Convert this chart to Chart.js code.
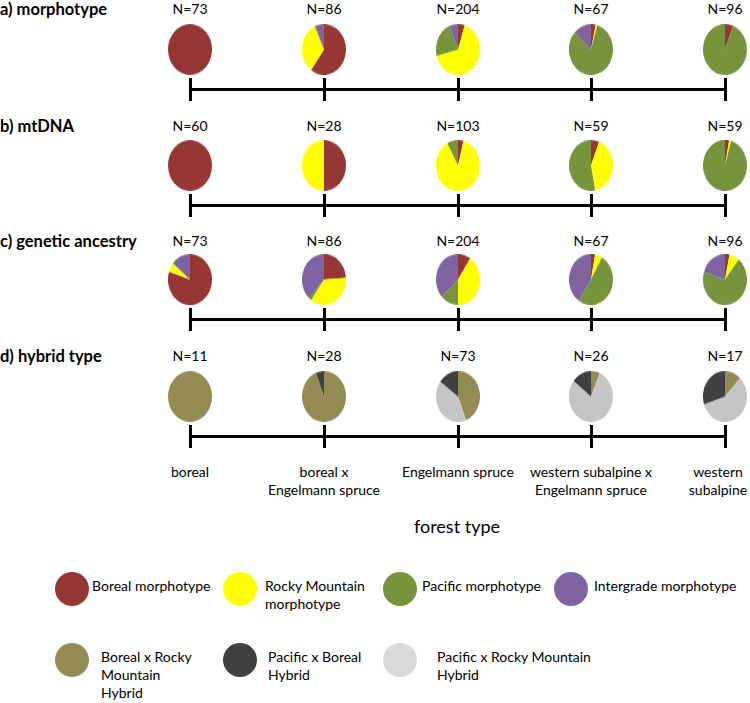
<!DOCTYPE html>
<html>
<head>
<meta charset="utf-8">
<script src="https://cdn.jsdelivr.net/npm/chart.js@4.4.1/dist/chart.umd.min.js"></script>
<style>
body{margin:0;background:#fff;font-family:Lato,'Open Sans',sans-serif;color:#000}
#page{position:relative;width:750px;height:703px;overflow:hidden;background:#fff}
.abs{position:absolute;white-space:nowrap}
.title{font-weight:bold;font-size:16.5px;line-height:17px;left:0;transform:translateY(-50%)}
.ctr{transform:translate(-50%,-50%);text-align:center;font-size:14px;line-height:18px}
.leg{font-size:14px;line-height:18px}
.dot{border-radius:50%}
</style>
</head>
<body>
<div id="page"></div>
<script>
// forest types along the gradient
const forestTypes = [['boreal'], ['boreal x', 'Engelmann spruce'], ['Engelmann spruce'],
    ['western subalpine x', 'Engelmann spruce'], ['western', 'subalpine']]

// a) morphotype (% of trees)
const morphoN = [73, 86, 204, 67, 96]
const morphoBoreal = [100, 60, 5, 3.5, 6]
const morphoRocky = [0, 33, 66, 1.2, 0]
const morphoPacific = [0, 0.5, 22.5, 82, 94]
const morphoIntergrade = [0, 6.5, 6.5, 13.3, 0]

// b) mtDNA
const mtN = [60, 28, 103, 59, 59]
const mtBoreal = [100, 50, 4, 6, 3]
const mtRocky = [0, 50, 88, 41, 1.5]
const mtPacific = [0, 0, 8, 53, 95.5]

// c) genetic ancestry
const ancN = [73, 86, 204, 67, 96]
const ancBoreal = [80, 24, 9.4, 3, 3.3]
const ancRocky = [6, 36, 40.6, 5.3, 7.5]
const ancPacific = [0, 2, 13, 51, 69]
const ancIntergrade = [14, 38, 37, 40.7, 20.2]

// d) hybrid type
const hybN = [11, 28, 73, 26, 17]
const hybBorealRocky = [100, 94, 44, 6.5, 12]
const hybPacificRocky = [0, 0, 41, 79, 58]
const hybPacificBoreal = [0, 6, 15, 14.5, 30]

const C = {
    boreal: '#953735', rocky: '#FFFF00', pacific: '#77933C', inter: '#8064A2',
    bxr: '#948A54', pxb: '#404040', pxr: '#C4C4C4', pxrLegend: '#D9D9D9'
}

const rows = [
    {title: 'a) morphotype', n: morphoN, series: [morphoBoreal, morphoRocky, morphoPacific, morphoIntergrade],
        colors: [C.boreal, C.rocky, C.pacific, C.inter], nY: 9, pieY: 49, lineY: 89},
    {title: 'b) mtDNA', n: mtN, series: [mtBoreal, mtRocky, mtPacific],
        colors: [C.boreal, C.rocky, C.pacific], nY: 126, pieY: 165, lineY: 205},
    {title: 'c) genetic ancestry', n: ancN, series: [ancBoreal, ancRocky, ancPacific, ancIntergrade],
        colors: [C.boreal, C.rocky, C.pacific, C.inter], nY: 241, pieY: 279, lineY: 319},
    {title: 'd) hybrid type', n: hybN, series: [hybBorealRocky, hybPacificRocky, hybPacificBoreal],
        colors: [C.bxr, C.pxr, C.pxb], nY: 356, pieY: 396, lineY: 436}
]

const page = document.querySelector('#page')
const pieX = [190, 324, 458, 591, 725]
const PIE_W = 44, PIE_H = 51

function add(cls, x, y, html, extra){
    const el = document.createElement('div')
    el.className = 'abs ' + cls
    el.style.left = x + 'px'
    el.style.top = y + 'px'
    el.innerHTML = html
    if (extra) Object.assign(el.style, extra)
    page.appendChild(el)
    return el
}

function addPie(cx, cy, values, colors){
    const wrap = add('', cx - PIE_W / 2, cy - PIE_H / 2, '', {
        width: PIE_W + 'px', height: PIE_W + 'px',
        transform: 'scaleY(' + (PIE_H / PIE_W) + ')', transformOrigin: 'top left'
    })
    const cv = document.createElement('canvas')
    cv.width = PIE_W
    cv.height = PIE_W
    wrap.appendChild(cv)
    new Chart(cv, {
        type: 'pie',
        data: {
            labels: colors.map((c, i) => 'part ' + i),
            datasets: [{data: values, backgroundColor: colors, borderWidth: 0}]
        },
        options: {
            responsive: false,
            animation: false,
            devicePixelRatio: 1,
            layout: {padding: 0},
            plugins: {legend: {display: false}, tooltip: {enabled: false}}
        }
    })
}

rows.forEach(row => {
    add('title', 0, row.nY, row.title)
    // axis line with ticks
    add('', pieX[0], row.lineY - 1.5, '', {width: (pieX[4] - pieX[0]) + 'px', height: '3px', background: '#000'})
    pieX.forEach((x, i) => {
        add('', x - 1.5, row.lineY - 11.5, '', {width: '3px', height: '23px', background: '#000'})
        add('ctr', x, row.nY, 'N=' + row.n[i])
        addPie(x, row.pieY, row.series.map(s => s[i]), row.colors)
    })
})

// category labels
const labelX = [190, 324, 458, 591, 718]
forestTypes.forEach((lines, i) => {
    add('ctr', labelX[i], 472 + (lines.length - 1) * 9, lines.join('<br>'))
})
add('ctr', 457, 526, 'forest type', {fontSize: '18px'})

// legend
const legend = [
    {color: C.boreal, x: 72, y: 589, tx: 92, text: 'Boreal morphotype'},
    {color: C.rocky, x: 240, y: 589, tx: 265, text: 'Rocky Mountain<br>morphotype'},
    {color: C.pacific, x: 400, y: 589, tx: 422, text: 'Pacific morphotype'},
    {color: C.inter, x: 571, y: 589, tx: 594, text: 'Intergrade morphotype'},
    {color: C.bxr, x: 72, y: 660, tx: 101, text: 'Boreal x Rocky<br>Mountain<br>Hybrid'},
    {color: C.pxb, x: 240, y: 660, tx: 268, text: 'Pacific x Boreal<br>Hybrid'},
    {color: C.pxrLegend, x: 400, y: 660, tx: 437, text: 'Pacific x Rocky Mountain<br>Hybrid'}
]
legend.forEach(l => {
    add('dot', l.x - 17, l.y - 17, '', {width: '34px', height: '34px', background: l.color})
    add('leg', l.tx, l.y - 12, l.text)
})
</script>
</body>
</html>
